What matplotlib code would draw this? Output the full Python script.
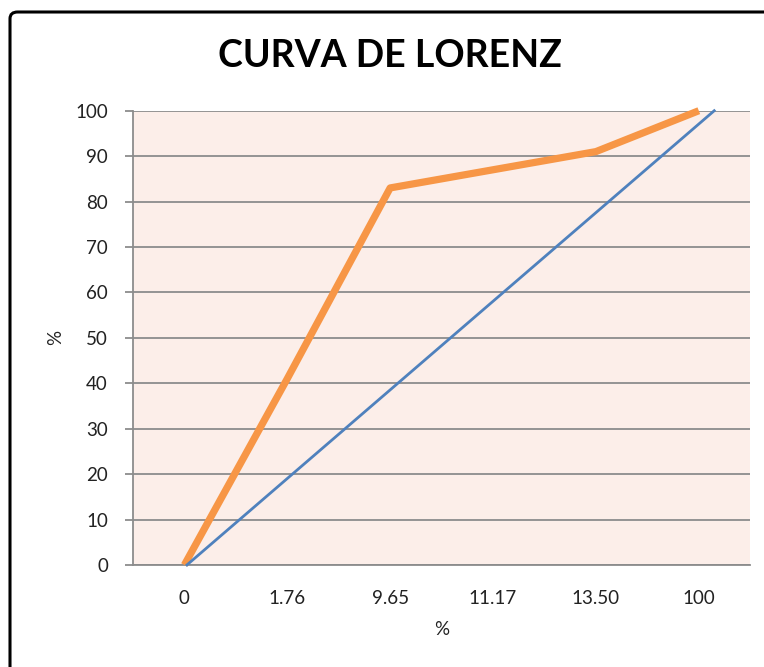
import matplotlib
matplotlib.use("Agg")
import matplotlib.pyplot as plt
from matplotlib.patches import FancyBboxPatch

plt.rcParams["font.family"] = ["Lato", "DejaVu Sans"]

# --- data ---
categories = ["0", "1.76", "9.65", "11.17", "13.50", "100"]
lorenz = [0, 41, 83, 87, 91, 100]
equality_x = [0, 100]
equality_y = [0, 100]
y_ticks = [0, 10, 20, 30, 40, 50, 60, 70, 80, 90, 100]

orange = "#F79646"
blue = "#4F81BD"
grid_col = "#8C8C8C"
bg = "#FCEEE9"

fig = plt.figure(figsize=(7.64, 6.67), dpi=100)

# chart frame (Excel chart area border, cut by the screenshot on right/bottom)
frame = FancyBboxPatch((10 / 764, -0.05), 1.2, (655 / 667) + 0.05,
                       boxstyle="round,pad=0,rounding_size=0.01",
                       transform=fig.transFigure, facecolor="white",
                       edgecolor="black", linewidth=2.2, zorder=-10)
fig.patches.append(frame)

ax = fig.add_axes([0.174, 0.153, 0.808, 0.681])
ax.set_facecolor(bg)

x = list(range(len(categories)))
ax.plot(x, lorenz, color=orange, linewidth=5.2, solid_capstyle="butt",
        clip_on=False, zorder=3)

ax.set_xlim(-0.5, len(categories) - 0.5)
ax.set_ylim(0, 100)
ax.set_xticks(x)
ax.set_xticklabels(categories)
ax.set_yticks(y_ticks)

ax.yaxis.grid(True, color=grid_col, linewidth=1.3)
ax.set_axisbelow(True)
for s in ["top", "right"]:
    ax.spines[s].set_visible(False)
for s in ["left", "bottom"]:
    ax.spines[s].set_color(grid_col)
    ax.spines[s].set_linewidth(1.3)

ax.tick_params(axis="x", length=0, pad=18, labelsize=13.5, colors="#222222")
ax.tick_params(axis="y", length=6, width=1.3, color=grid_col, pad=12,
               labelsize=13.5, labelcolor="#222222")

ax.set_xlabel("%", fontsize=13.5, color="#222222", labelpad=10)
ax.set_ylabel("%", fontsize=13.5, color="#222222", labelpad=8)

fig.text(390 / 764, 1 - 56 / 667, "CURVA DE LORENZ", fontsize=27,
         fontweight="bold", ha="center", va="center")

# equality line drawn on its own hidden x scale
ax2 = ax.twiny()
ax2.set_xlim(-10.24, 106.83)
ax2.plot(equality_x, equality_y, color=blue, linewidth=2.0, clip_on=False)
ax2.axis("off")

fig.savefig("out.png", dpi=100)
